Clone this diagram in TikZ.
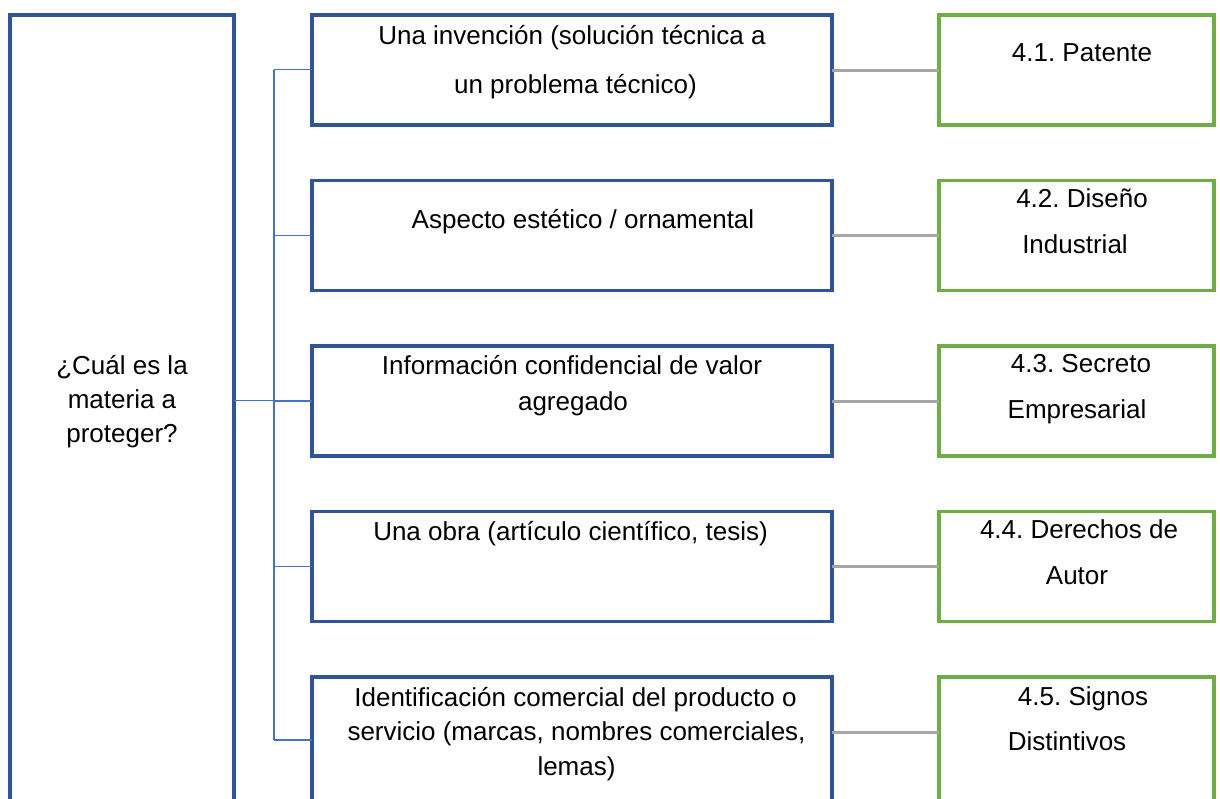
\documentclass[tikz,border=0pt]{standalone}
\usepackage{fontspec}
\setmainfont{Liberation Sans}
\frenchspacing
\definecolor{boxblue}{HTML}{2F5597}
\definecolor{linkblue}{HTML}{4472C4}
\definecolor{boxgreen}{HTML}{70AD47}
\definecolor{linkgray}{HTML}{A5A5A5}
\begin{document}
\begin{tikzpicture}[x=1pt,y=-1pt,
  frame/.style={line width=3.5pt,inner sep=0pt,outer sep=0pt,anchor=north west},
  bluebox/.style={frame,draw=boxblue,minimum width=520pt,minimum height=110pt},
  greenbox/.style={frame,draw=boxgreen,minimum width=275pt,minimum height=110pt},
  bracket/.style={draw=linkblue,line width=1.8pt},
  link/.style={draw=linkgray,line width=3pt},
  txt/.style={anchor=base,inner sep=0pt,font=\fontsize{26}{30}\selectfont\frenchspacing}]
\clip (0,0) rectangle (1220,798);
% boxes
\node[frame,draw=boxblue,minimum width=224pt,minimum height=830pt] (q) at (10,15) {};
\node[bluebox] (m1) at (312,15) {};
\node[bluebox] (m2) at (312,180.5) {};
\node[bluebox] (m3) at (312,346) {};
\node[bluebox] (m4) at (312,511.5) {};
\node[bluebox,minimum height=150pt] (m5) at (312,677) {};
\node[greenbox] (g1) at (939,15) {};
\node[greenbox] (g2) at (939,180.5) {};
\node[greenbox] (g3) at (939,346) {};
\node[greenbox] (g4) at (939,511.5) {};
\node[greenbox,minimum height=150pt] (g5) at (939,677) {};
% bracket
\coordinate (j) at (274,400.5);
\coordinate (jt) at (274,69.5);
\coordinate (jb) at (274,740);
\coordinate (c5) at (0,732);
\draw[bracket] (q.east |- j) -- (j);
\draw[bracket] (jt) -- (jb);
\draw[bracket] (jt) -- (m1.west |- jt);
\draw[bracket] (m2.west -| jt) -- (m2.west);
\draw[bracket] (m3.west -| jt) -- (m3.west);
\draw[bracket] (m4.west -| jt) -- (m4.west);
\draw[bracket] (jb) -- (m5.west |- jb);
% gray links
\draw[link] (m1.east) -- (g1.west);
\draw[link] (m2.east) -- (g2.west);
\draw[link] (m3.east) -- (g3.west);
\draw[link] (m4.east) -- (g4.west);
\draw[link] (m5.east |- c5) -- (g5.west |- c5);
% left text
\node[txt] (qa) at (122,374) {¿Cuál es la};
\node[txt] (qb) at (122,408) {materia a};
\node[txt] (qc) at (122,442) {proteger?};
% middle texts
\node[txt] (t1a) at (572,44) {Una invención (solución técnica a};
\node[txt] (t1b) at (575.5,93.5) {un problema técnico)};
\node[txt] (t2a) at (583,228) {Aspecto estético / ornamental};
\node[txt] (t3a) at (572,374.5) {Información confidencial de valor};
\node[txt] (t3b) at (573,410.5) {agregado};
\node[txt] (t4a) at (570.5,540.5) {Una obra (artículo científico, tesis)};
\node[txt] (t5a) at (575.5,706) {Identificación comercial del producto o};
\node[txt] (t5b) at (576.5,740.5) {servicio (marcas, nombres comerciales,};
\node[txt] (t5c) at (576.5,775) {lemas)};
% green texts
\node[txt] (r1a) at (1082,61) {4.1. Patente};
\node[txt] (r2a) at (1082,207) {4.2. Diseño};
\node[txt] (r2b) at (1075,253) {Industrial};
\node[txt] (r3a) at (1081,372.5) {4.3. Secreto};
\node[txt] (r3b) at (1077,418.5) {Empresarial};
\node[txt] (r4a) at (1079,538) {4.4. Derechos de};
\node[txt] (r4b) at (1077,584) {Autor};
\node[txt] (r5a) at (1083,705) {4.5. Signos};
\node[txt] (r5b) at (1067,750) {Distintivos};
\end{tikzpicture}
\end{document}
